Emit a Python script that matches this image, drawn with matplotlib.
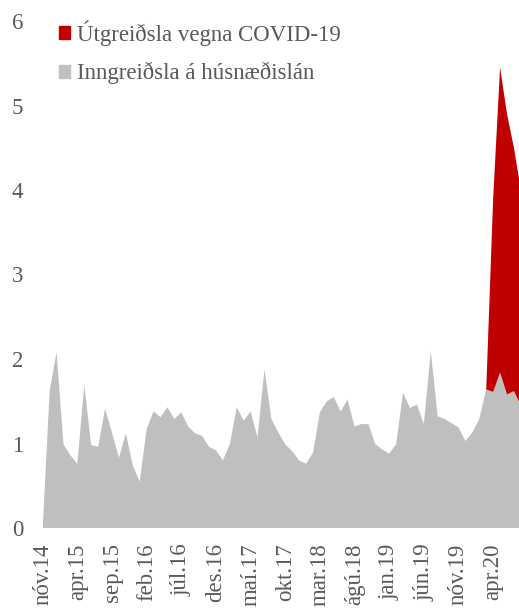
import matplotlib.pyplot as plt
from matplotlib.patches import Patch
import numpy as np

plt.rcParams['font.family'] = ['Liberation Serif', 'DejaVu Serif']

# Monthly series, nóv.14 - ágú.20
months = ['jan', 'feb', 'mar', 'apr', 'maí', 'jún', 'júl', 'ágú', 'sep', 'okt', 'nóv', 'des']
month_labels = []
m, y = 10, 14
for _ in range(70):
    month_labels.append(f"{months[m]}.{y:02d}")
    m += 1
    if m == 12:
        m, y = 0, y + 1

inngreidsla = [0.0, 1.62, 2.08, 0.99, 0.86, 0.76, 1.69, 0.98, 0.96, 1.41,
               1.13, 0.83, 1.12, 0.74, 0.55, 1.17, 1.38, 1.31, 1.43, 1.29,
               1.37, 1.20, 1.12, 1.09, 0.96, 0.92, 0.80, 0.99, 1.43, 1.27,
               1.38, 1.07, 1.88, 1.29, 1.13, 0.99, 0.91, 0.80, 0.76, 0.89,
               1.37, 1.50, 1.55, 1.38, 1.52, 1.20, 1.23, 1.23, 0.99, 0.93,
               0.88, 0.99, 1.60, 1.42, 1.46, 1.23, 2.09, 1.32, 1.29, 1.24,
               1.19, 1.03, 1.13, 1.29, 1.64, 1.61, 1.84, 1.58, 1.62, 1.45]
utgreidsla = [0.0] * 64 + [0.0, 2.29, 3.61, 3.32, 2.88, 2.55]

labels = ['Inngreiðsla á húsnæðislán', 'Útgreiðsla vegna COVID-19']
colors = ['#BFBFBF', '#C00000']
text_color = '#595959'

x = np.arange(len(inngreidsla))

fig = plt.figure(figsize=(5.19, 6.08), dpi=100)
ax = fig.add_axes([42.7 / 519, 80 / 608, 1 - 42.7 / 519, 507 / 608])

ax.stackplot(x, inngreidsla, utgreidsla, colors=colors, linewidth=0)

ax.set_xlim(0, (519 - 42.7) / 6.93)
ax.set_ylim(0, 6)
ax.set_yticks(range(0, 7))
ax.set_xticks(x[::5])
ax.set_xticklabels(month_labels[::5], rotation=90, va='top', ha='center')
ax.tick_params(axis='both', length=0, labelsize=16.5, labelcolor=text_color)
ax.tick_params(axis='y', pad=14)
ax.tick_params(axis='x', pad=11)
for s in ax.spines.values():
    s.set_visible(False)

handles = [Patch(color=colors[1]), Patch(color=colors[0])]
ax.legend(handles, [labels[1], labels[0]], loc='upper left',
          bbox_to_anchor=(0.0, 1.033), frameon=False, fontsize=16.5,
          labelcolor=text_color, handlelength=0.5, handleheight=0.5,
          handletextpad=0.3, labelspacing=0.72, borderaxespad=0.3)

fig.savefig('out.png', dpi=100)
